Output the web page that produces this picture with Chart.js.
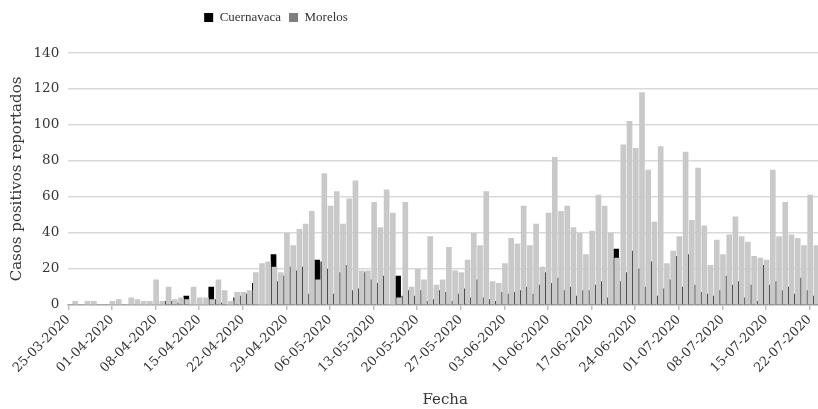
<!DOCTYPE html>
<html>
<head>
<meta charset="utf-8">
<script src="https://cdn.jsdelivr.net/npm/chart.js@4.4.1/dist/chart.umd.min.js"></script>
<style>
html,body{margin:0;padding:0;overflow:hidden;background:#fff;width:818px;height:409px}
#wrap{position:absolute;left:0;top:0;width:826px;height:409px}
</style>
</head>
<body>
<div id="wrap"><canvas id="c"></canvas></div>
<script>
// Categories (daily dates)
const dates = [
'25-03-2020','26-03-2020','27-03-2020','28-03-2020','29-03-2020','30-03-2020','31-03-2020',
'01-04-2020','02-04-2020','03-04-2020','04-04-2020','05-04-2020','06-04-2020','07-04-2020','08-04-2020','09-04-2020','10-04-2020',
'11-04-2020','12-04-2020','13-04-2020','14-04-2020','15-04-2020','16-04-2020','17-04-2020','18-04-2020','19-04-2020','20-04-2020',
'21-04-2020','22-04-2020','23-04-2020','24-04-2020','25-04-2020','26-04-2020','27-04-2020','28-04-2020','29-04-2020','30-04-2020',
'01-05-2020','02-05-2020','03-05-2020','04-05-2020','05-05-2020','06-05-2020','07-05-2020','08-05-2020','09-05-2020','10-05-2020',
'11-05-2020','12-05-2020','13-05-2020','14-05-2020','15-05-2020','16-05-2020','17-05-2020','18-05-2020','19-05-2020','20-05-2020',
'21-05-2020','22-05-2020','23-05-2020','24-05-2020','25-05-2020','26-05-2020','27-05-2020','28-05-2020','29-05-2020','30-05-2020','31-05-2020',
'01-06-2020','02-06-2020','03-06-2020','04-06-2020','05-06-2020','06-06-2020','07-06-2020','08-06-2020','09-06-2020','10-06-2020',
'11-06-2020','12-06-2020','13-06-2020','14-06-2020','15-06-2020','16-06-2020','17-06-2020','18-06-2020','19-06-2020','20-06-2020',
'21-06-2020','22-06-2020','23-06-2020','24-06-2020','25-06-2020','26-06-2020','27-06-2020','28-06-2020','29-06-2020','30-06-2020',
'01-07-2020','02-07-2020','03-07-2020','04-07-2020','05-07-2020','06-07-2020','07-07-2020','08-07-2020','09-07-2020','10-07-2020',
'11-07-2020','12-07-2020','13-07-2020','14-07-2020','15-07-2020','16-07-2020','17-07-2020','18-07-2020','19-07-2020','20-07-2020',
'21-07-2020','22-07-2020','23-07-2020'
];
// Tick labels on the x axis (every 7 days)
const tickLabels = ['25-03-2020','01-04-2020','08-04-2020','15-04-2020','22-04-2020','29-04-2020',
'06-05-2020','13-05-2020','20-05-2020','27-05-2020','03-06-2020','10-06-2020','17-06-2020',
'24-06-2020','01-07-2020','08-07-2020','15-07-2020','22-07-2020'];
// Series values (daily positive cases)
const cuernavaca = [
0,0,0,0,0,0,0,0,0,0,
0,0,0,0,0,0,2,2,1,5,
0,0,0,10,3,1,0,4,5,6,
12,0,0,28,13,16,21,19,21,6,
25,24,20,6,18,22,8,9,18,14,
12,16,0,16,5,8,5,8,2,3,
8,7,2,6,9,4,14,4,3,2,
7,6,7,8,10,6,11,18,12,15,
8,10,5,8,8,11,13,4,31,13,
18,30,20,10,24,5,9,14,27,10,
28,11,7,6,5,8,16,11,13,4,
11,2,22,11,13,8,10,6,15,8,
5
];
const morelos = [
2,0,2,2,0,0,2,3,0,4,
3,2,2,14,2,10,3,4,3,10,
4,4,3,14,8,2,7,7,8,18,
23,24,21,18,40,33,42,45,52,14,
73,55,63,45,59,69,19,19,57,43,
64,51,4,57,10,20,14,38,11,14,
32,19,18,25,40,33,63,13,12,23,
37,34,55,33,45,21,51,82,52,55,
43,40,28,41,61,55,40,26,89,102,
87,118,75,46,88,23,30,38,85,47,
76,44,22,36,28,39,49,38,35,27,
26,25,75,38,57,39,37,33,61,33,
null
];
const yMax = 140, yStep = 20;

const N = dates.length;
const SHIFT_G = 0.2, SHIFT_B = 0.15;
const serif = "'DejaVu Serif', serif";
const txt = '#363636';

const legendMover = {
  id: 'legendMover',
  afterLayout(chart) {
    const lg = chart.legend;
    if (!lg) return;
    const dx = 276 - (lg.left + lg.right) / 2;
    lg.left += dx; lg.right += dx;
    const dy = 3 - lg.top;
    lg.top += dy; lg.bottom += dy;
  }
};

new Chart(document.getElementById('c'), {
  type: 'bar',
  data: {
    datasets: [
      { label: 'Cuernavaca', data: cuernavaca.map((v, i) => ({x: i, y: v})), xAxisID: 'xb',
        backgroundColor: '#000000', order: 1, barThickness: 5 },
      { label: 'Morelos', data: morelos.map((v, i) => ({x: i, y: v})), xAxisID: 'xg',
        backgroundColor: '#c9c9c9', order: 0, barThickness: 5 }
    ]
  },
  options: {
    responsive: true,
    maintainAspectRatio: false,
    animation: false,
    layout: { padding: { left: 7.3, right: 4, top: 22, bottom: 0 } },
    scales: {
      x: {
        type: 'linear', position: 'bottom', min: 0, max: N, offset: false,
        afterBuildTicks: (s) => { s.ticks = tickLabels.map((t, k) => ({ value: 7 * k })); },
        ticks: { autoSkip: false, minRotation: 45, maxRotation: 45, padding: 2,
          callback: (v, idx) => tickLabels[idx],
          font: { family: serif, size: 13 }, color: txt },
        grid: { offset: false, drawOnChartArea: false, drawTicks: true, tickLength: 5, color: '#bfbfbf', lineWidth: 1.5 },
        border: { display: true, color: '#cfcfcf', width: 2 },
        title: { display: true, text: 'Fecha', font: { family: serif, size: 15 }, color: txt, padding: { top: 13, bottom: 0 } }
      },
      xg: { type: 'linear', axis: 'x', display: false, offset: false, min: -0.5 - SHIFT_G, max: N - 0.5 - SHIFT_G },
      xb: { type: 'linear', axis: 'x', display: false, offset: false, min: -0.5 + SHIFT_B, max: N - 0.5 + SHIFT_B },
      y: {
        min: 0, max: yMax,
        afterFit: (s) => { s.width = 61; },
        ticks: { stepSize: yStep, padding: 9, font: { family: serif, size: 13.5 }, color: txt },
        grid: { color: '#d9d9d9', lineWidth: 1.5, drawTicks: false, tickLength: 0 },
        border: { display: false },
        title: { display: true, text: 'Casos positivos reportados', font: { family: serif, size: 15 }, color: txt, padding: { top: 1, bottom: 7 } }
      }
    },
    plugins: {
      legend: {
        display: true, position: 'top', align: 'center',
        labels: {
          boxWidth: 9, boxHeight: 9, padding: 8,
          font: { family: "'Liberation Serif', serif", size: 13 }, color: '#333',
          sort: (a, b) => a.datasetIndex - b.datasetIndex,
          generateLabels: (chart) => {
            const items = Chart.defaults.plugins.legend.labels.generateLabels(chart);
            items.forEach(it => {
              if (it.datasetIndex === 1) it.fillStyle = '#7f7f7f';
              it.strokeStyle = 'rgba(0,0,0,0)';
              it.lineWidth = 0;
            });
            return items;
          }
        }
      },
      tooltip: { enabled: false }
    }
  },
  plugins: [legendMover]
});
</script>
</body>
</html>
